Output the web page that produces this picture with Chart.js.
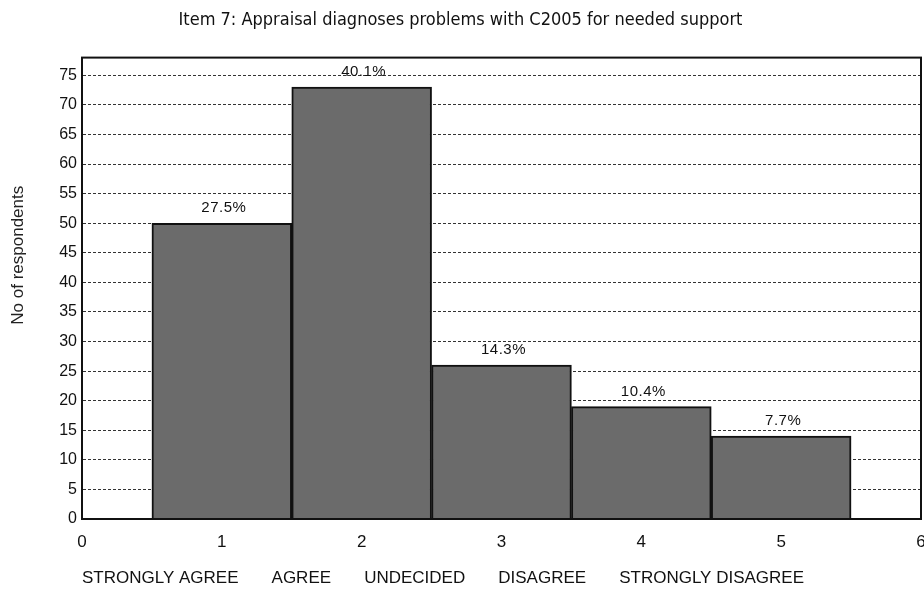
<!DOCTYPE html>
<html>
<head>
<meta charset="utf-8">
<script src="https://cdn.jsdelivr.net/npm/chart.js@4.4.0/dist/chart.umd.min.js"></script>
<style>
  body { margin: 0; background: #fff; }
  #wrap { width: 924px; height: 589px; }
</style>
</head>
<body>
<div id="wrap"><canvas id="chart"></canvas></div>
<script>
// Item 7 responses
const categories = ['STRONGLY AGREE', 'AGREE', 'UNDECIDED', 'DISAGREE', 'STRONGLY DISAGREE'];
const positions = [1, 2, 3, 4, 5];
const respondents = [50, 73, 26, 19, 14];
const percentLabels = ['27.5%', '40.1%', '14.3%', '10.4%', '7.7%'];

const narrow = "'DejaVu Sans Condensed', 'Liberation Sans', Arial, sans-serif";
const regular = "'Liberation Sans', Arial, sans-serif";

// box around the plot area
const framePlugin = {
    id: 'frame',
    afterDatasetsDraw(chart) {
        const { ctx, chartArea: a } = chart;
        ctx.save();
        ctx.strokeStyle = '#111';
        ctx.lineWidth = 2;
        ctx.strokeRect(a.left, a.top, a.right - a.left, a.bottom - a.top);
        ctx.restore();
    }
};

// percentage text above each bar
const percentPlugin = {
    id: 'percentLabels',
    afterDatasetsDraw(chart) {
        const ctx = chart.ctx;
        const meta = chart.getDatasetMeta(0);
        ctx.save();
        ctx.font = '15px ' + regular;
        ctx.letterSpacing = '0.5px';
        ctx.fillStyle = '#111';
        ctx.textAlign = 'center';
        ctx.textBaseline = 'middle';
        meta.data.forEach((bar, i) => {
            ctx.fillText(percentLabels[i], bar.x + 2, bar.y - 15);
        });
        ctx.restore();
    }
};

new Chart(document.getElementById('chart'), {
    type: 'bar',
    data: {
        datasets: [{
            data: positions.map((x, i) => ({ x: x, y: respondents[i] })),
            backgroundColor: '#6b6b6b',
            borderColor: '#111',
            borderWidth: 2,
            barPercentage: 1,
            categoryPercentage: 1
        }]
    },
    options: {
        responsive: true,
        maintainAspectRatio: false,
        animation: false,
        layout: { padding: { right: 3 } },
        plugins: {
            legend: { display: false },
            tooltip: { enabled: false },
            title: {
                display: true,
                text: 'Item 7: Appraisal diagnoses problems with C2005 for needed support',
                color: '#111',
                font: { family: narrow, size: 18, weight: 'normal' },
                padding: { top: 10, bottom: 26 }
            }
        },
        scales: {
            x: {
                type: 'linear',
                min: 0,
                max: 6,
                offset: false,
                grid: { display: false, offset: false },
                border: { display: true, color: '#111', width: 2 },
                ticks: {
                    stepSize: 1,
                    color: '#111',
                    padding: 5,
                    maxRotation: 0,
                    font: { family: regular, size: 17 }
                },
                title: {
                    display: true,
                    align: 'start',
                    text: categories.join('       '),
                    color: '#111',
                    font: { family: regular, size: 17 },
                    padding: { top: 0, bottom: 0 }
                },
                afterFit(scale) {
                    scale.height = 70;
                    scale.paddingLeft = 0;
                    scale.paddingRight = 0;
                }
            },
            y: {
                min: 0,
                max: 78,
                grid: { color: '#333', lineWidth: 1, drawTicks: false },
                border: { display: true, color: '#111', width: 2, dash: [3, 2] },
                ticks: {
                    stepSize: 5,
                    includeBounds: false,
                    color: '#111',
                    padding: 5,
                    font: { family: regular, size: 16 }
                },
                title: {
                    display: true,
                    text: '              No of respondents',
                    color: '#222',
                    font: { family: regular, size: 17 },
                    padding: { top: 8, bottom: 0 }
                },
                afterFit(scale) { scale.width = 82; }
            }
        }
    },
    plugins: [framePlugin, percentPlugin]
});
</script>
</body>
</html>
